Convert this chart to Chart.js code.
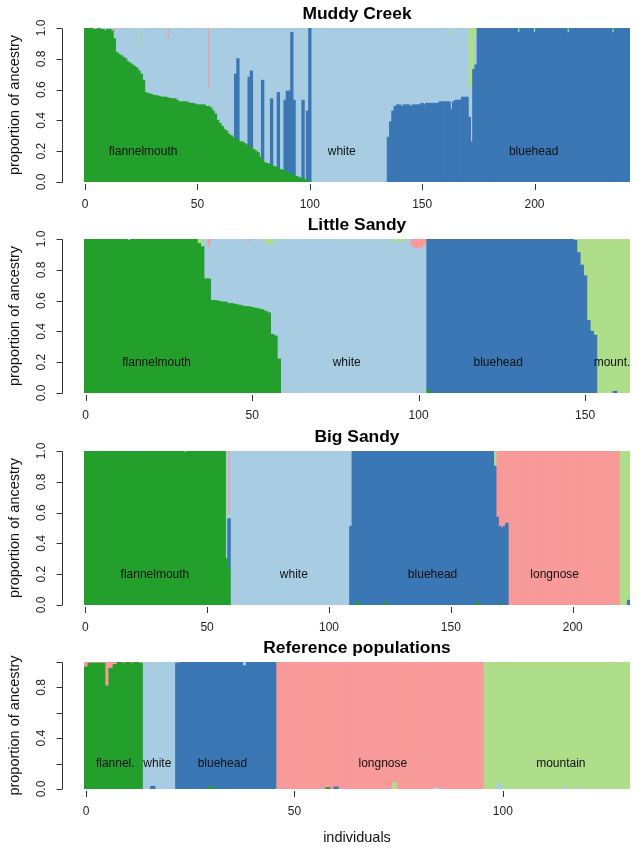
<!DOCTYPE html>
<html>
<head>
<meta charset="utf-8">
<title>Ancestry proportions</title>
<script src="https://cdn.jsdelivr.net/npm/chart.js"></script>
<style>
  body { margin: 0; background: #fff; }
  #page { position: relative; width: 638px; height: 851px; overflow: hidden; }
  canvas { position: absolute; left: 0; }
</style>
</head>
<body>
<div id="page">
  <canvas id="muddy"></canvas>
  <canvas id="little"></canvas>
  <canvas id="big"></canvas>
  <canvas id="ref"></canvas>
</div>
<script>
const FONT = '"Liberation Sans", Arial, Helvetica, sans-serif';

const colors = {
  flannelmouth: '#23a02c',
  bluehead: '#3b77b5',
  white: '#a8cde3',
  mountain: '#afde8a',
  longnose: '#f89a99'
};
// stacking order, bottom to top
const order = ['flannelmouth', 'bluehead', 'white', 'mountain', 'longnose'];

const yTicks = [0, 0.2, 0.4, 0.6, 0.8, 1];
const yTickLabels = ['0.0', '0.2', '0.4', '0.6', '0.8', '1.0'];
const yTickLabelsRef = ['0.0', '', '0.4', '', '0.8', ''];

// ---- Muddy Creek (243 individuals) ----
const mcTicks = [0, 50, 100, 150, 200];
const mcNames = ['flannelmouth', 'white', 'bluehead'];
const mcNameX = [25.8, 114.2, 199.6];
const mcFlannel = [
  1,1,1,1,.99,.99,1,.99,.99,.98,
  .99,.99,.98,.93,.84,.83,.82,.81,.80,.78,
  .77,.76,.75,.74,.72,.70,.66,.58,.575,.57,
  .565,.56,.56,.555,.55,.55,.55,.545,.54,.54,
  .54,.53,.52,.52,.52,.52,.515,.51,.51,.505,
  .50,.50,.50,.50,.49,.49,.48,.46,.44,.40,
  .38,.36,.34,.33,.31,.30,.29,.28,.27,.26,
  .26,.25,.24,.23,.22,.21,.20,.19,.16,.14,
  .125,.12,.115,.11,.10,.095,.09,.08,.075,.07,
  .06,.055,.05,.04,.035,.03,.025,.02,.015,.01,
  0,0,0,0,0,0,0,0,0,0,
  0,0,0,0,0,0,0,0,0,0,
  0,0,0,0,0,0,0,0,0,0,
  0,0,0,0,0,0,0,0,0,0,
  0,0,0,0,0,0,0,0,0,0,
  0,0,0,0,0,0,0,0,0,0,
  0,0,0,0,0,0,0,0,0,0,
  0,0,0,0,0,0,0,0,0,0,
  0,0,0,0,0,0,0,0,0,0,
  0,0,0,0,0,0,0,0,0,0,
  0,0,0,0,0,0,0,0,0,0,
  0,0,0,0,0,0,0,0,0,0,
  0,0,0,0,0,0,0,0,0,0,
  0,0,0,0,0,0,0,0,0,0,
  0,0,0
];
const mcBluehead = [
  0,0,0,0,0,0,0,0,0,0,
  0,0,0,0,0,0,0,0,0,0,
  0,0,0,0,0,0,0,0,0,0,
  0,0,0,0,0,0,0,0,0,0,
  0,0,0,0,0,0,0,0,0,0,
  0,0,0,0,0,0,0,0,0,0,
  0,0,0,0,0,0,0,.42,.53,0,
  0,0,0,.45,.50,0,0,0,0,.52,
  0,0,0,.43,0,0,.49,0,0,.46,
  .53,.535,.92,.49,0,0,0,.51,0,.45,
  1,0,0,0,0,0,0,0,0,0,
  0,0,0,0,0,0,0,0,0,0,
  0,0,0,0,0,0,0,0,0,0,
  0,0,0,0,0,.29,.39,.46,.49,.50,
  .50,.49,.50,.50,.50,.49,.50,.50,.50,.50,
  .51,.50,.51,.51,.51,.51,.51,.51,.52,.52,
  .52,.52,.52,.47,.52,.53,.53,.53,.55,.55,
  .55,.42,.26,.73,.76,1,1,1,1,1,
  1,1,1,1,1,1,1,1,1,1,
  1,1,1,.97,1,1,1,1,1,1,
  .97,1,1,1,1,1,1,1,1,1,
  1,1,1,1,1,.97,1,1,1,1,
  1,1,1,1,1,1,1,1,1,1,
  1,1,1,1,1,.97,1,1,1,1,
  1,1,1
];
// thin slivers, by individual
const mcMountain = {24: .12, 163: .06, 171: .38, 172: .38, 173: .25, 174: .05, 193: .03, 200: .03, 215: .03, 235: .03};
const mcLongnose = {13: .03, 37: .07, 48: .01, 55: .40};

// ---- Little Sandy (164 individuals) ----
const lsTicks = [0, 50, 100, 150];
const lsNames = ['flannelmouth', 'white', 'bluehead', 'mount.'];
const lsNameX = [21.3, 78.4, 123.9, 158.1];
const lsFlannel = [
  1,1,1,1,1,1,1,1,1,1,
  1,1,1,.99,1,1,1,1,1,1,
  1,1,1,1,1,1,1,1,1,1,
  1,1,1,1,.97,.95,.74,.74,.60,.60,
  .595,.59,.59,.58,.58,.575,.57,.565,.56,.56,
  .555,.55,.545,.54,.53,.52,.38,.37,.22,0,
  0,0,0,0,0,0,0,0,0,0,
  0,0,0,0,0,0,0,0,0,0,
  0,0,0,0,0,0,0,0,0,0,
  0,0,0,0,0,0,0,0,0,0,
  0,0,0,.02,0,0,0,0,0,0,
  0,0,0,0,0,0,0,0,0,0,
  0,0,0,0,0,0,0,0,0,0,
  0,0,0,0,0,0,0,0,0,0,
  0,0,0,0,0,0,0,0,0,0,
  0,0,0,0,0,0,0,0,0,0,
  0,0,0,0
];
const lsBluehead = [
  0,0,0,0,0,0,0,0,0,0,
  0,0,0,0,0,0,0,0,0,0,
  0,0,0,0,0,0,0,0,0,0,
  0,0,0,0,0,0,0,0,0,0,
  0,0,0,0,0,0,0,0,0,0,
  0,0,0,0,0,0,0,0,0,0,
  0,0,0,0,0,0,0,0,0,0,
  0,0,0,0,0,0,0,0,0,0,
  0,0,0,0,0,0,0,0,0,0,
  0,0,0,0,0,0,0,0,0,0,
  0,0,0,.98,1,1,1,1,1,1,
  1,1,1,1,1,1,1,1,1,1,
  1,1,1,1,1,1,1,1,1,1,
  1,1,1,1,1,1,1,1,1,1,
  1,1,1,1,1,1,1,.99,.91,.83,
  .76,.47,.40,.375,0,0,0,0,0,.01,
  0,0,0,0
];
const lsMountain = {34: .03, 35: .04, 54: .03, 55: .04, 56: .04, 58: .02, 92: .02, 93: .02, 94: .02, 95: .02, 96: .02,
  147: .01, 148: .09, 149: .17, 150: .24, 151: .53, 152: .60, 153: .625,
  154: 1, 155: 1, 156: 1, 157: 1, 158: 1, 159: .99, 160: 1, 161: 1, 162: 1, 163: 1};
const lsLongnose = {37: .05, 49: .02, 98: .05, 99: .06, 100: .07, 101: .06, 102: .04};

// ---- Big Sandy (224 individuals) ----
const bsTicks = [0, 50, 100, 150, 200];
const bsNames = ['flannelmouth', 'white', 'bluehead', 'longnose'];
const bsNameX = [28.6, 85.6, 142.5, 192.6];
const bsFlannel = [
  1,1,1,1,1,1,1,1,1,1,
  1,1,1,1,1,1,1,1,.99,1,
  1,1,1,.99,1,1,1,1,1,1,
  1,1,1,1,1,1,1,1,1,1,
  1,.99,1,1,1,1,1,1,1,1,
  1,1,1,1,1,1,1,1,.30,.24,
  0,0,0,0,0,0,0,0,0,0,
  0,0,0,0,0,0,0,0,0,0,
  0,0,0,0,0,0,0,0,0,0,
  0,0,0,0,0,0,0,0,0,0,
  0,0,0,0,0,0,0,0,0,0,
  0,0,.02,0,0,0,0,0,0,0,
  0,0,0,.02,0,0,0,0,0,0,
  0,0,0,0,0,0,0,0,0,0,
  0,0,0,0,0,0,0,0,0,0,
  0,0,0,0,0,0,0,0,0,0,
  0,.02,0,0,0,0,0,0,0,0,
  .01,0,0,0,0,0,0,0,0,0,
  0,0,0,0,0,0,0,0,0,0,
  0,0,0,0,0,0,0,0,0,0,
  0,0,0,0,0,0,0,0,0,0,
  0,0,0,0,0,0,0,0,0,0,
  0,0,0,0
];
const bsBluehead = [
  0,0,0,0,0,0,0,0,0,0,
  0,0,0,0,0,0,0,0,.01,0,
  0,0,0,.01,0,0,0,0,0,0,
  0,0,0,0,0,0,0,0,0,0,
  0,0,0,0,0,0,0,0,0,0,
  0,0,0,0,0,0,0,0,0,.32,
  0,0,0,0,0,0,0,0,0,0,
  0,0,0,0,0,0,0,0,0,0,
  0,0,0,0,0,0,0,0,0,0,
  0,0,0,0,0,0,0,0,0,0,
  0,0,0,0,0,0,0,0,0,.51,
  1,1,.98,1,1,1,1,1,1,1,
  1,1,1,.98,1,1,1,1,1,1,
  1,1,1,1,1,1,1,1,1,1,
  1,1,1,1,1,1,1,1,1,1,
  1,1,1,1,1,1,1,1,1,1,
  1,.98,1,1,1,1,1,1,.90,.57,
  .50,.50,.51,.53,0,0,0,0,0,0,
  0,0,0,0,0,0,0,0,0,0,
  0,0,0,0,0,0,0,0,0,0,
  0,0,0,0,0,0,0,0,0,0,
  0,0,0,0,0,0,0,0,0,0,
  0,0,0,.03
];
const bsWhite = [
  0,0,0,0,0,0,0,0,0,0,
  0,0,0,0,0,0,0,0,0,0,
  0,0,0,0,0,0,0,0,0,0,
  0,0,0,0,0,0,0,0,0,0,
  0,.01,0,0,0,0,0,0,0,0,
  0,0,0,0,0,0,0,0,.70,0,
  1,1,1,1,1,1,1,1,1,1,
  1,1,1,1,1,1,1,1,1,1,
  1,1,1,1,1,1,1,1,1,1,
  1,1,1,1,1,1,1,1,1,1,
  1,1,1,1,1,1,1,1,1,.49,
  0,0,0,0,0,0,0,0,0,0,
  0,0,0,0,0,0,0,0,0,0,
  0,0,0,0,0,0,0,0,0,0,
  0,0,0,0,0,0,0,0,0,0,
  0,0,0,0,0,0,0,0,0,0,
  0,0,0,0,0,0,0,0,0,0,
  0,0,0,0,0,0,0,0,0,0,
  0,0,0,0,0,0,0,0,0,0,
  0,0,0,0,0,0,0,0,0,0,
  0,0,0,0,0,0,0,0,0,0,
  0,0,0,0,0,0,0,0,0,0,
  0,0,0,0
];
const bsMountain = {59: .03, 168: .10, 220: 1, 221: 1, 222: 1, 223: .97};

// ---- Reference populations (131 individuals) ----
const refTicks = [0, 50, 100];
const refNames = ['flannel.', 'white', 'bluehead', 'longnose', 'mountain'];
const refNameX = [7.0, 17.1, 32.7, 71.2, 113.9];
const refFlannel = [
  .96,.99,.99,.99,.99,.81,.95,.98,1,.99,
  1,.99,1,.99,0,0,0,0,0,0,
  0,0,0,0,0,0,0,0,0,0,
  .02,0,0,0,0,0,0,0,0,0,
  0,0,0,0,0,0,0,0,0,0,
  0,0,0,0,0,0,0,0,.01,0,
  0,0,0,0,0,0,0,0,0,0,
  0,0,0,0,0,0,0,0,0,0,
  0,0,0,0,0,0,0,0,0,0,
  0,0,0,0,0,0,0,0,0,0,
  0,0,0,0,0,0,0,0,0,0,
  0,0,0,0,0,0,0,0,0,0,
  0,0,0,0,0,0,0,0,0,0,
  0
];
const refBluehead = [
  0,0,0,0,0,0,0,0,0,0,
  0,0,0,0,0,0,.02,0,0,0,
  0,0,.99,1,1,1,1,1,1,1,
  .98,1,1,1,1,1,1,1,.97,1,
  1,1,1,1,1,1,0,0,0,0,
  0,0,0,0,0,0,0,0,0,0,
  .015,0,0,0,0,0,0,0,0,0,
  0,0,0,0,0,0,0,0,0,0,
  0,0,0,0,0,0,0,0,0,0,
  0,0,0,0,0,0,0,0,0,0,
  0,0,0,0,0,0,0,0,0,0,
  0,0,0,0,0,0,0,0,0,0,
  0,0,0,0,0,0,0,0,0,0,
  0
];
const refWhite = [
  0,0,0,0,0,0,0,0,0,0,
  0,0,0,0,1,1,.98,1,1,1,
  1,1,0,0,0,0,0,0,0,0,
  0,0,0,0,0,0,0,0,.03,0,
  0,0,0,0,0,0,0,0,0,0,
  0,0,0,0,0,0,0,0,0,0,
  0,0,0,0,0,0,0,0,0,0,
  0,0,0,0,0,0,0,0,0,0,
  0,0,0,0,.01,0,0,0,0,0,
  0,0,0,0,0,0,0,0,0,.04,
  0,0,0,0,0,0,0,0,0,0,
  0,0,0,0,0,.01,0,0,.01,0,
  0,0,0,0,0,0,0,0,0,0,
  0
];
const refMountain = [
  0,0,0,0,0,0,0,0,0,0,
  0,0,0,0,0,0,0,0,0,0,
  0,0,0,0,0,0,0,0,0,0,
  0,0,0,0,0,0,0,0,0,0,
  0,0,0,0,0,0,0,0,0,0,
  0,0,0,0,0,0,0,0,0,0,
  0,0,0,0,0,0,0,0,0,0,
  0,0,0,0,.05,0,0,0,0,0,
  0,0,0,0,0,0,0,0,0,0,
  0,0,0,0,0,0,1,1,1,.96,
  1,1,1,1,1,1,1,1,1,1,
  1,1,1,1,1,.99,1,1,.99,1,
  1,1,1,1,1,1,1,.99,1,1,
  1
];

const panels = [
  { id: 'muddy', title: 'Muddy Creek', n: 243, top: 0, height: 212, padTop: 28, padBottom: 30,
    parts: { flannelmouth: mcFlannel, bluehead: mcBluehead, mountain: mcMountain, longnose: mcLongnose }, rest: 'white',
    xTicks: mcTicks, yLabels: yTickLabels, names: mcNames, nameX: mcNameX },
  { id: 'little', title: 'Little Sandy', n: 164, top: 212, height: 211, padTop: 27, padBottom: 30,
    parts: { flannelmouth: lsFlannel, bluehead: lsBluehead, mountain: lsMountain, longnose: lsLongnose }, rest: 'white',
    xTicks: lsTicks, yLabels: yTickLabels, names: lsNames, nameX: lsNameX },
  { id: 'big', title: 'Big Sandy', n: 224, top: 423, height: 212, padTop: 28, padBottom: 30,
    parts: { flannelmouth: bsFlannel, bluehead: bsBluehead, white: bsWhite, mountain: bsMountain }, rest: 'longnose',
    xTicks: bsTicks, yLabels: yTickLabels, names: bsNames, nameX: bsNameX },
  { id: 'ref', title: 'Reference populations', n: 131, top: 635, height: 216, padTop: 27, padBottom: 62,
    parts: { flannelmouth: refFlannel, bluehead: refBluehead, white: refWhite, mountain: refMountain }, rest: 'longnose',
    xTicks: refTicks, yLabels: yTickLabelsRef, names: refNames, nameX: refNameX, xTitle: 'individuals' }
];

// sparse {index: value} -> full list
function expand(n, src) {
  if (Array.isArray(src)) return src;
  const out = new Array(n).fill(0);
  Object.keys(src).forEach(k => { out[+k] = src[k]; });
  return out;
}

// the remaining component makes each individual sum to 1
function fillRest(n, vals) {
  const out = [];
  for (let i = 0; i < n; i++) {
    let s = 0;
    Object.values(vals).forEach(v => { s += v[i] || 0; });
    out.push(Math.max(0, Math.round((1 - s) * 1000) / 1000));
  }
  return out;
}

// R base graphics look: offset y axis, outward ticks, rotated tick labels
function makeAxes(p) {
  return {
    id: 'rAxes',
    afterDraw(chart) {
      const ctx = chart.ctx, a = chart.chartArea, xs = chart.scales.x, ys = chart.scales.y;
      ctx.save();
      ctx.textAlign = 'center';
      ctx.textBaseline = 'middle';

      ctx.fillStyle = '#000';
      ctx.font = 'bold 17.4px ' + FONT;
      ctx.fillText(p.title, (a.left + a.right) / 2, a.top - 14);

      ctx.strokeStyle = '#333';
      ctx.lineWidth = 1;
      const axX = a.left - 21.5;
      ctx.beginPath();
      ctx.moveTo(axX, Math.round(ys.getPixelForValue(0)) + 0.5);
      ctx.lineTo(axX, Math.round(ys.getPixelForValue(1)) + 0.5);
      yTicks.forEach(v => {
        const py = Math.round(ys.getPixelForValue(v)) + 0.5;
        ctx.moveTo(axX, py);
        ctx.lineTo(axX - 6, py);
      });
      p.xTicks.forEach(v => {
        const px = Math.round(xs.getPixelForValue(v)) + 0.5;
        ctx.moveTo(px, a.bottom + 2);
        ctx.lineTo(px, a.bottom + 8);
      });
      ctx.stroke();

      ctx.fillStyle = '#222';
      ctx.font = '12px ' + FONT;
      p.xTicks.forEach(v => ctx.fillText(String(v), xs.getPixelForValue(v), a.bottom + 22.5));
      yTicks.forEach((v, i) => {
        if (!p.yLabels[i]) return;
        ctx.save();
        ctx.translate(42, ys.getPixelForValue(v));
        ctx.rotate(-Math.PI / 2);
        ctx.fillText(p.yLabels[i], 0, 0);
        ctx.restore();
      });

      // group names written inside the bars
      ctx.fillStyle = '#111';
      p.names.forEach((t, i) => ctx.fillText(t, xs.getPixelForValue(p.nameX[i]), ys.getPixelForValue(0.2)));

      ctx.font = '14.5px ' + FONT;
      ctx.save();
      ctx.translate(15, (a.top + a.bottom) / 2);
      ctx.rotate(-Math.PI / 2);
      ctx.fillText('proportion of ancestry', 0, 0);
      ctx.restore();
      if (p.xTitle) ctx.fillText(p.xTitle, (a.left + a.right) / 2, a.bottom + 49);
      ctx.restore();
    }
  };
}

function drawPanel(p) {
  const canvas = document.getElementById(p.id);
  canvas.width = 638;
  canvas.height = p.height;
  canvas.style.top = p.top + 'px';

  const vals = {};
  Object.keys(p.parts).forEach(k => { vals[k] = expand(p.n, p.parts[k]); });
  vals[p.rest] = fillRest(p.n, vals);

  const datasets = order.map(k => ({
    label: k,
    data: vals[k].map((v, i) => ({ x: i, y: v })).filter(d => d.y > 0),
    backgroundColor: colors[k],
    borderWidth: 0,
    inflateAmount: 0.55,   // hides hairline seams between neighbouring bars
    barPercentage: 1,
    categoryPercentage: 1
  }));

  new Chart(canvas, {
    type: 'bar',
    data: { datasets },
    options: {
      responsive: false,
      animation: false,
      devicePixelRatio: 1,
      layout: { padding: { left: 84, right: 8, top: p.padTop, bottom: p.padBottom } },
      plugins: { legend: { display: false }, title: { display: false }, tooltip: { enabled: false } },
      scales: {
        x: { type: 'linear', min: -0.5, max: p.n - 0.5, stacked: true, offset: false, display: false },
        y: { min: 0, max: 1, stacked: true, display: false }
      }
    },
    plugins: [makeAxes(p)]
  });
}

panels.forEach(drawPanel);
</script>
</body>
</html>
